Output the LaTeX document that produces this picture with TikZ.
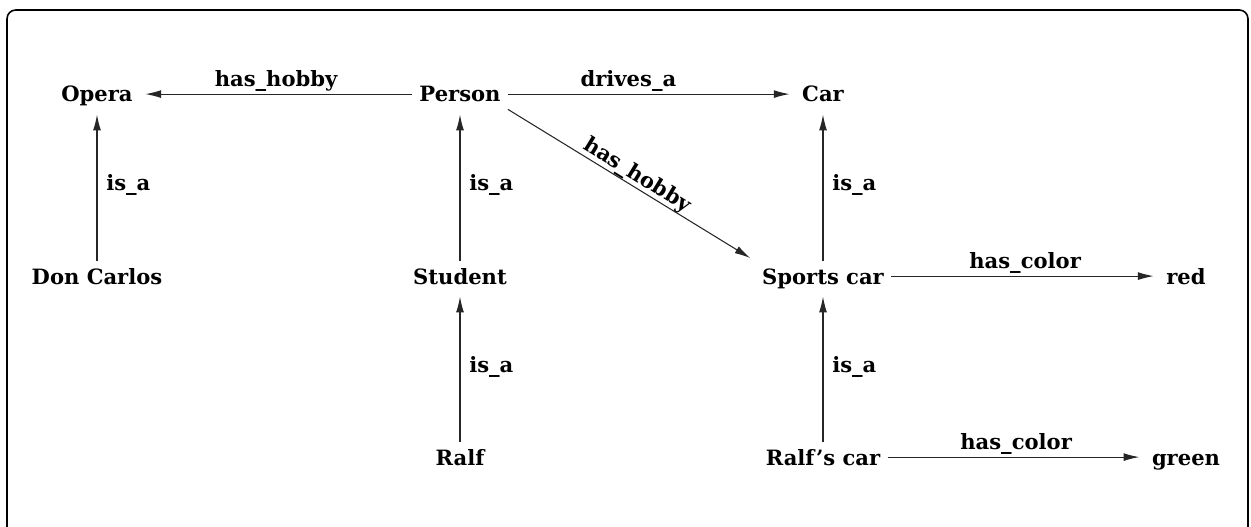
\documentclass[tikz,border=0pt]{standalone}
\usepackage{fontspec}
\setmainfont{DejaVu Serif}
\usetikzlibrary{arrows.meta}

\begin{document}
\begin{tikzpicture}[
    x=0.02cm, y=-0.02cm,
    concept/.style={
        anchor=base,
        font=\fontsize{12}{14}\selectfont\bfseries,
        text height=0.9em,
        text depth=0pt,
        inner sep=4pt
    },
    rel/.style={
        -{Latex[length=9pt,width=4.5pt]},
        line width=0.6pt,
        draw=black!85,
        shorten >=3pt
    },
    lbl/.style={
        font=\fontsize{12}{14}\selectfont\bfseries,
        inner sep=3pt
    }
]

\useasboundingbox (0,0) rectangle (1251,527);

% Frame
\draw[line width=0.9pt, rounded corners=5pt] (7,10) rectangle (1248,545);

% Concepts
\node[concept] (opera)     at (97, 102)   {Opera};
\node[concept] (person)    at (460, 102)  {Person};
\node[concept] (car)       at (823, 102)  {Car};

\node[concept] (doncarlos) at (97, 284)   {Don Carlos};
\node[concept] (student)   at (460, 284)  {Student};
\node[concept] (sportscar) at (823, 284)  {Sports car};
\node[concept] (colred)    at (1186, 284) {red};

\node[concept] (ralf)      at (460, 465)  {Ralf};
\node[concept] (ralfscar)  at (823, 465)  {Ralf's car};
\node[concept] (colgreen)  at (1186, 465) {green};

% Relations
\draw[rel] (person) -- node[lbl, above, inner sep=1pt] {has\_hobby} (opera);
\draw[rel] (person) -- node[lbl, above, inner sep=1pt, pos=0.42] {drives\_a} (car);
\draw[rel] (person.south east) -- node[lbl, above, sloped, inner sep=0pt] {has\_hobby} (sportscar.north west);

\draw[rel] (doncarlos) -- node[lbl, right, inner sep=5pt] {is\_a} (opera);
\draw[rel] (student) -- node[lbl, right, inner sep=5pt] {is\_a} (person);
\draw[rel] (ralf) -- node[lbl, right, inner sep=5pt] {is\_a} (student);
\draw[rel] (sportscar) -- node[lbl, right, inner sep=5pt] {is\_a} (car);
\draw[rel] (ralfscar) -- node[lbl, right, inner sep=5pt] {is\_a} (sportscar);

\draw[rel] (sportscar) -- node[lbl, above, inner sep=1pt] {has\_color} (colred);
\draw[rel] (ralfscar) -- node[lbl, above, inner sep=1pt] {has\_color} (colgreen);

\end{tikzpicture}
\end{document}
